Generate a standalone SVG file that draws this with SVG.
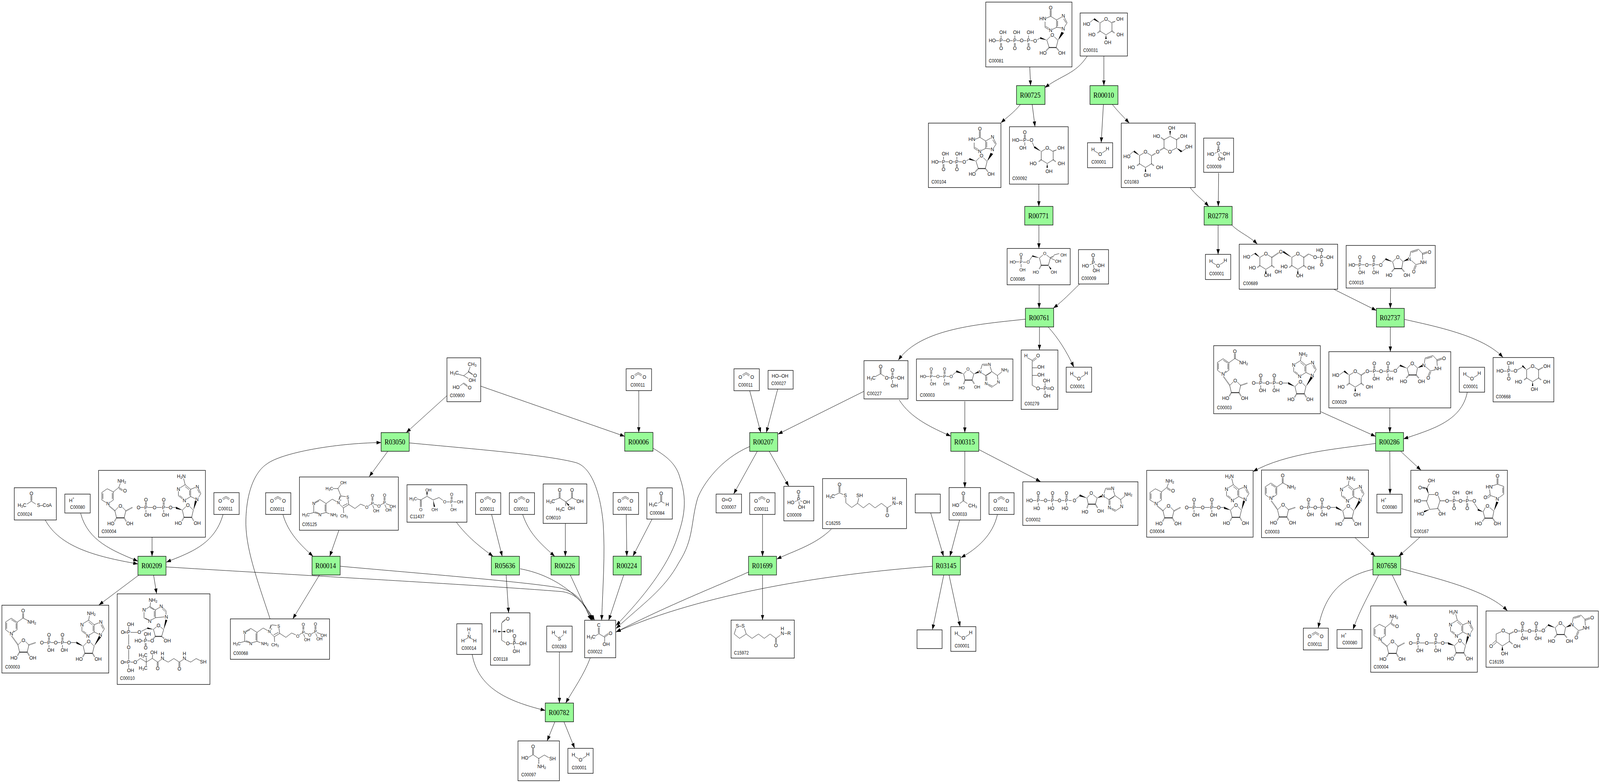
<svg xmlns="http://www.w3.org/2000/svg" xmlns:xlink="http://www.w3.org/1999/xlink" width="4552" height="2005" viewBox="0 0 4552 2005" preserveAspectRatio="none" style="width:100vw;height:100vh;display:block">
<style>
svg{font-size:13.3px}
text{font-family:"Liberation Sans",Arial,sans-serif;fill:#111}
.a{text-anchor:middle;dominant-baseline:central}
.l{font-size:12px;dominant-baseline:central}
.t{font-family:"Liberation Serif","Times New Roman",serif;font-size:18.5px;fill:#000;text-anchor:middle;dominant-baseline:central}
.s{font-size:.72em}
.sm{font-size:11.5px}
.md{font-size:12.3px}
.n{fill:#fff;stroke:#000;stroke-width:1.33}
.r{fill:#98fb98;stroke:#000;stroke-width:1.33}
.b{fill:none;stroke:#111;stroke-width:1}
.k{fill:none;stroke:#111;stroke-width:2}
.h{fill:none;stroke:#111;stroke-width:3;stroke-dasharray:1 1.4}
.f{fill:#000}
.e{fill:none;stroke:#000;stroke-width:1;marker-end:url(#a)}
</style>
<defs>
<marker id="a" markerUnits="userSpaceOnUse" markerWidth="14" markerHeight="10" refX="13.3" refY="4.7" orient="auto"><path d="M0,0L13.3,4.7L0,9.4z"/></marker>
<g id="pud"><path class="b" d="M-1.4,-14V-6M1.4,-14V-6M0,6V13"/><text class="a" y="-19.5">O</text><text class="a">P</text><text class="a" x="5" y="19">OH</text></g>
<g id="puh"><path class="b" d="M-1.4,-14V-6M1.4,-14V-6M0,6V13"/><text class="a" y="-19.5">O</text><text class="a">P</text><text class="a" x="-4.5" y="19.5">HO</text></g>
<g id="pdu"><path class="b" d="M-1.4,14V6M1.4,14V6M0,-6V-13"/><text class="a" y="19.7">O</text><text class="a">P</text><text class="a" x="5" y="-21">OH</text></g>
<g id="h2o"><path class="b" d="M20,21L30.7,27M41.7,26L52.7,19.7"/><text class="a" x="15.7" y="17">H</text><text class="a" x="36" y="29.3">O</text><text class="a" x="56.7" y="15.7">H</text></g>
<g id="co2"><path class="b" d="M24,15.5L34.5,9.5L45,15.5M26,18.5L34.5,13L43.5,18.5"/><text class="a" x="18" y="21.3">O</text><text class="a" x="52" y="21.3">O</text></g>
<g id="hp"><text class="a" x="19.6" y="16">H<tspan class="s" dy="-5">+</tspan></text></g>
<g id="pi"><path class="b" d="M40.7,20V28M43.3,20V28M37,36.7L31.7,39M46.7,36.7L52.3,39M42.7,39L44.3,48"/><text class="a" x="41.7" y="14.7">O</text><text class="a" x="42" y="33.3">P</text><text class="a" x="20" y="41.7">HO</text><text class="a" x="64.3" y="40.7">OH</text><text class="a" x="50.3" y="53.3">OH</text></g>
<g id="pr"><path class="b" d="M5,3L17,9.6V30.6L0,40.2L-17,30.6V9.6L-5,3"/><path class="h" d="M-17,30.6L-25,36M17,30.6L25,36"/><path class="f" d="M0,40.2L-2,51H2z"/><text class="a">O</text></g>
<g id="py"><use xlink:href="#pr"/><text class="a" x="-40" y="40.2">HO</text><text class="a" x="40" y="40.2">OH</text><text class="a" x="5" y="60">OH</text></g>
<g id="rb"><path class="b" d="M-5.5,3L-15.6,12.3L-10.8,30.6M10.8,30.6L15.6,12.3L5.5,3"/><path class="k" d="M-10.8,30.6H10.8"/><path class="h" d="M-10.8,30.6L-17,40M10.8,30.6L17,40"/><text class="a">O</text><text class="a" x="-27" y="45.5">HO</text><text class="a" x="26.8" y="45.5">OH</text></g>
<g id="ad"><path class="b" d="M246.9,38.3L233,46M227.7,55V66.6L239.5,75M231,66L240,72M249.5,76L262.5,68.5V50.1L246.9,38.3M259.5,66V52.5M258,51L247,43M262.5,50.1L276,45M285,48.5L291.5,60.8L285.5,70M282,50L287.5,60M275,74L262.5,68.5"/><text class="a" x="227.7" y="49.8">N</text><text class="a" x="244.6" y="78.8">N</text><text class="a" x="281.3" y="43.6">N</text><text class="a" x="280.4" y="76.2">N</text></g>
<g id="ino"><path class="b" d="M145.5,88L135.3,97.3L142,116.3M162,116.3L167,98L156.5,88.5M108,96.5L116,92M145,19.5V36M147.8,19.5V36M146.3,36.3L163,45.7V64.7L151,70M166,48V62M130.3,50V64.7L141,70.5M132,62L141,67M133,41.5L146.3,36.3M163,45.7L177,38.5M186,40.5L193,53L186,63M183,43L190,53M177,66L163,64.7"/><path class="k" d="M142,116.3H162"/><path class="f" d="M135.3,97.3L117,89.5L116,94zM167,98L177,76L184,79z"/><path class="h" d="M142,116.3L133,125M162,116.3L170,125"/><text class="a" x="146.3" y="14.7">O</text><text class="a" x="123.7" y="42">HN</text><text class="a" x="146" y="72">N</text><text class="a" x="182.3" y="35.3">N</text><text class="a" x="182" y="68">N</text><text class="a" x="151" y="84">O</text><text class="a" x="102" y="99">O</text><text class="a" x="124.7" y="130.7">HO</text><text class="a" x="178" y="130.7">OH</text></g>
<g id="urid"><path class="b" d="M102,45L112,35M142,33L132.3,42L137.4,59.3M158,59.3L161.6,41.3L152,33M181,29L183.7,15.7L205.7,9.6L216.8,20.3L231,16M186,18L204,13M217.8,23L232,18.5M216.8,20.3L218,36M212,46L198.4,49L185,38M197,50L192,61M200,51L195,62"/><path class="k" d="M137.4,59.3H158"/><path class="f" d="M132.3,42L112.4,32.5L111.5,37zM161.6,41.3L175,33L176,38z"/><path class="h" d="M137.4,59.3L129,68M158,59.3L166,68"/><text class="a" x="98.5" y="49.4">O</text><text class="a" x="147" y="29.9">O</text><text class="a" x="180" y="34.8">N</text><text class="a" x="237.3" y="16.5">O</text><text class="a" x="220" y="42.5">NH</text><text class="a" x="192.5" y="67">O</text><text class="a" x="122" y="76.2">HO</text><text class="a" x="172.7" y="76.2">OH</text></g>
<g id="adn"><path class="b" d="M103,41L114,32M142,30.5L134.3,38.3L138.3,54M158.3,54L163.3,38.3L152,30M183,26L187.7,13.3H203M190,16.5H203M209.5,19L214.3,32.3L196.7,42.3L186,36M212,34.5L198.5,42.5M197,42.3V56M200,44V56M203,64L217.7,70L229,63M204,67L216,73M232,53L230.3,42.3L214.3,32.3M230.3,42.3L243,33"/><path class="k" d="M138.3,54H158.3"/><path class="f" d="M134.3,38.3L114,29L113,34zM163.3,38.3L176,31L177,35.5z"/><path class="h" d="M138.3,54L134,65M158.3,54L165,64"/><text class="a" x="98.7" y="44.7">O</text><text class="a" x="146.7" y="25.7">O</text><text class="a" x="181" y="32.3">N</text><text class="a" x="207.7" y="13.3">N</text><text class="a" x="198.3" y="62.3">N</text><text class="a" x="233.3" y="59">N</text><text class="a" x="252" y="28">NH<tspan class="s" dy="3">2</tspan></text><text class="a" x="128.7" y="73.3">HO</text><text class="a" x="172.7" y="71.3">OH</text></g>
<g id="thi" class="sm"><path class="b" d="M58.2,24.5L75.8,34.7V57.7L62,61M54,61L40.7,57.7V38.5M45,31L58.2,24.5M73,37V55M44,33.5L56,28M44,56L54.5,59M40.7,57.7L28,61M75.8,57.7L86,61M75.8,34.7L93.3,23.5L106,30M112,26L117.9,15.3L132,17M138,23L140.4,37.2L124.9,45.9L115,37M123,41L137,34.5M112.5,24L115,15M124.9,45.9L126,59M140.4,37.2L157.9,47.4L174,36.2L186,41M196,41L204,36M206.3,19V28M209,19V28M211,36L221.5,39M230,39L238,34.5M240.7,18V27M243.5,18V27M208.5,39L212,48M243,37.5L247,46M246,35L258,39"/><text class="a" x="40.7" y="33.7">N</text><text class="a" x="58.2" y="62.8">N</text><text class="a" x="18.2" y="62.8">H<tspan class="s" dy="3">3</tspan><tspan dy="-3">C</tspan></text><text class="a" x="98.2" y="62.8">NH<tspan class="s" dy="3">2</tspan></text><text class="a" x="110.9" y="32.1">N</text><text class="a s" x="117" y="27">+</text><text class="a" x="137.5" y="17.9">S</text><text class="a" x="127" y="66.3">CH<tspan class="s" dy="3">3</tspan></text><text class="a" x="191.6" y="43.9">O</text><text class="a" x="207.7" y="33.7">P</text><text class="a" x="207.7" y="14.3">O</text><text class="a" x="226" y="40.8">O</text><text class="a" x="242.1" y="32.1">P</text><text class="a" x="242.1" y="12.8">O</text><text class="a" x="218.3" y="52.6">OH</text><text class="a" x="253.4" y="51">OH</text><text class="a" x="265.3" y="42.3">OH</text></g>
<g id="nad"><path class="b" d="M26.8,33.3L43.3,43.6V62.8L32,70M21,70L10.7,62.8V42.9L26.8,33.3M40.5,46V60.5M13.5,45V60.5M27,37L40,44.5M43.3,43.6L60.3,32.9L74,39.5M59,32.9V20M61.7,32.9V20M119,95.7H129M139,95.7H148M158,95.7H167M177,95.7H186M196,95.7H212M249,27L246.9,38.3"/><path class="h" d="M28,79L46,101.8M76.3,101.8L96.4,95.7"/><path class="f" d="M231.3,104.9L212,93L212,98.5zM262.5,104.9L276,79L282,82z"/><use xlink:href="#rb" x="61.2" y="89.6"/><use xlink:href="#rb" x="246.9" y="92.6"/><use xlink:href="#ad"/><use xlink:href="#pud" x="133.9" y="95.7"/><use xlink:href="#pud" x="172.3" y="95.7"/><text class="a" x="60.3" y="14.2">O</text><text class="a" x="85.3" y="43.6">NH<tspan class="s" dy="3">2</tspan></text><text class="a" x="26.8" y="72.7">N</text><text class="a s" x="33.5" y="67">+</text><text class="a" x="113.8" y="95.7">O</text><text class="a" x="153.1" y="95.7">O</text><text class="a" x="191" y="95.7">O</text><text class="a" x="254.5" y="21.4">NH<tspan class="s" dy="3">2</tspan></text></g>
<g id="nadh"><path class="b" d="M24.6,47L42,55.1V75.8L32,82.5M21.5,82.5L9.4,75.8V56.6L24.6,47M39,58V73M12.4,59V73M42,55.1L57.6,43.6L69,50M57.6,46.5L68,52.5M57.6,43.6L62,33M119,94.9H129.5M140,94.9H154M165,94.9H180M190.5,94.9H199.5M210,94.9H220M242,21L246.4,36.7"/><path class="h" d="M30,91L46.9,103.7M78,103.7L96,95"/><path class="f" d="M238.8,101.8L220,93L220,98.5zM270,101.8L274,78L280,79z"/><use xlink:href="#rb" x="62" y="91"/><use xlink:href="#rb" x="254" y="89.6"/><use xlink:href="#ad" transform="translate(-.5,-1.6)"/><use xlink:href="#pud" x="134.8" y="94.9"/><use xlink:href="#pud" x="185.3" y="94.9"/><text class="a" x="66" y="27.2">NH<tspan class="s" dy="3">2</tspan></text><text class="a" x="75" y="52.8">O</text><text class="a" x="26.8" y="85.3">N</text><text class="a" x="113.8" y="94.9">O</text><text class="a" x="159.4" y="94.9">O</text><text class="a" x="204.9" y="94.9">O</text><text class="a" x="235.3" y="15.7">H<tspan class="s" dy="3">2</tspan><tspan dy="-3">N</tspan></text></g>
</defs>

<g id="nodes">
<g id="C00081" transform="translate(2804.5,5.4)"><rect class="n" width="245.2" height="166"/><path class="b" d="M28,98.7H38M49,98.7H58M68.5,98.7H77M88,98.7H97M107.5,98.7H116M127,98.7H135"/><use xlink:href="#ino" x="38.4"/><use xlink:href="#pdu" x="43.6" y="98.7"/><use xlink:href="#pdu" x="82.7" y="98.7"/><use xlink:href="#pdu" x="121.7" y="98.7"/><text class="a" x="18.4" y="98.7">HO</text><text class="a" x="63.1" y="98.7">O</text><text class="a" x="102.2" y="98.7">O</text><text class="l" x="8.6" y="150.8">C00081</text></g>
<g id="C00031" transform="translate(3073,33.3)"><rect class="n" width="134.5" height="110.2"/><use xlink:href="#py" x="73.5" y="15.7"/><path class="f" d="M56.5,25.3L38,17L41,13.5z"/><path class="b" d="M39.6,15.3L28,24M90.7,25.3l2,-3l1.5,2l2,-3l1.5,2l2,-3"/><text class="a" x="18.4" y="28.3">HO</text><text class="a" x="113" y="15.7">OH</text><text class="l" x="8.6" y="96">C00031</text></g>
<g id="R00725"><rect class="r" x="2892" y="219.3" width="81" height="48.2"/><text class="t" x="2931" y="243.4">R00725</text></g>
<g id="R00010"><rect class="r" x="3101" y="219.3" width="79.6" height="48.2"/><text class="t" x="3140" y="243.4">R00010</text></g>
<g id="C00104" transform="translate(2641.3,315.3)"><rect class="n" width="206.4" height="165"/><path class="b" d="M28,99H38M48,99H58M69,99H76M86,99H96"/><use xlink:href="#ino"/><use xlink:href="#pdu" x="43" y="99"/><use xlink:href="#pdu" x="81" y="99"/><text class="a" x="18.7" y="99">HO</text><text class="a" x="63.7" y="99">O</text><text class="l" x="8.7" y="151">C00104</text></g>
<g id="C00092" transform="translate(2872,324.5)"><rect class="n" width="167" height="147"/><use xlink:href="#py" x="107.3" y="54"/><path class="f" d="M90.3,63.6L69.5,54L72,50z"/><path class="b" d="M70.6,52.4L65,40M57,34.8H49M42.2,20V29M45,20V29M43.6,40V48M28,34.8H38M124.3,63.6l2,-3l1.5,2l2,-3l1.5,2l2,-3"/><text class="a" x="62.6" y="34.8">O</text><text class="a" x="43.6" y="34.8">P</text><text class="a" x="17.8" y="34.8">HO</text><text class="a" x="37.9" y="54.3">OH</text><text class="a" x="43.6" y="14.5">O</text><text class="a" x="146.4" y="54">OH</text><text class="l" x="8" y="132.4">C00092</text></g>
<g id="C00001_1" transform="translate(3094,365.5)"><rect class="n" width="71.6" height="64"/><use xlink:href="#h2o"/><text class="l" x="11" y="49.7">C00001</text></g>
<g id="C01083" transform="translate(3190,315.3)"><rect class="n" width="210.4" height="165"/><path class="b" d="M133,70L121.7,63.6V42.5L139,33.7L157.4,42.5V63.6L143.5,70M171.6,73.1L184,65M35,72L24,81"/><path class="f" d="M139,33.7L137,20H141zM157.4,63.6L170,75L173,71zM52.2,82.7L35,74L37,70z"/><path class="h" d="M121.7,42.5L113,37M157.4,42.5L166,37M121.7,63.6L109,70M87.8,82.7L98,77"/><use xlink:href="#py" x="68.9" y="73.5"/><text class="a" x="143.3" y="13">OH</text><text class="a" x="100.5" y="33.7">HO</text><text class="a" x="177.4" y="33.7">OH</text><text class="a" x="192.3" y="60.5">OH</text><text class="a" x="138.3" y="73.5">O</text><text class="a" x="103.6" y="73.5">O</text><text class="a" x="16" y="85.7">HO</text><text class="l" x="8" y="150.8">C01083</text></g>
<g id="C00009_1" transform="translate(3424.5,353.6)"><rect class="n" width="85" height="87.7"/><use xlink:href="#pi"/><text class="l" x="8.3" y="73.3">C00009</text></g>
<g id="R00771"><rect class="r" x="2915.3" y="528.5" width="80.4" height="47.8"/><text class="t" x="2954.5" y="552.4">R00771</text></g>
<g id="R02778"><rect class="r" x="3425.7" y="528.5" width="79.8" height="47.8"/><text class="t" x="3465" y="552.4">R02778</text></g>
<g id="C00085" class="sm" transform="translate(2865.3,636.3)"><rect class="n" width="179.4" height="93"/><path class="b" d="M38.4,20V29M41,20V29M39.7,40V48M24,34.3H34M45,35H54M63,31L72,19M102,16.5L92,24.3L97,43M117.3,43L123,24.3L112,16.5M123,24.3L136,30M123,24.3l2,-3l1.5,2l2,-3l1.5,2l2,-3l2,-3L148,13"/><path class="k" d="M97,43H117.3"/><path class="f" d="M92,24.3L72,17.5L71.5,21zM117.3,43L123,54L126,52z"/><path class="h" d="M97,43L91,53"/><text class="a" x="39.7" y="15.3">O</text><text class="a" x="39.7" y="34.7">P</text><text class="a" x="16" y="34.3">HO</text><text class="a" x="59.7" y="35">O</text><text class="a" x="43.7" y="54.3">OH</text><text class="a" x="107" y="13">O</text><text class="a" x="160.3" y="16">OH</text><text class="a" x="145.3" y="32.3">OH</text><text class="a" x="81.7" y="60.3">HO</text><text class="a" x="132.7" y="60.3">OH</text><text class="l" x="8.7" y="78.3">C00085</text></g>
<g id="C00009_2" transform="translate(3068.3,639.3)"><rect class="n" width="85.4" height="88"/><use xlink:href="#pi"/><text class="l" x="8.3" y="73.3">C00009</text></g>
<g id="C00001_2" transform="translate(3429.4,651.4)"><rect class="n" width="72" height="64.3"/><use xlink:href="#h2o"/><text class="l" x="11" y="49.7">C00001</text></g>
<g id="C00689" transform="translate(3525.6,625.4)"><rect class="n" width="280" height="115.2"/><use xlink:href="#pr" x="75.7" y="24.1"/><use xlink:href="#pr" x="166.7" y="24.1"/><path class="f" d="M58.7,33.7L43.5,25L46,21.5zM149.7,33.7L124,21L126,17z"/><path class="h" d="M92.7,33.7L112,22M183.7,33.7L197.6,24.9"/><path class="b" d="M44.8,23.3L33,30M197.6,24.9L211,31M221,33.7H229M234,19.5V28M233,39V47M235.8,39V47M240,33.7H248"/><text class="a" x="21.3" y="32.9">HO</text><text class="a" x="37.5" y="60.8">HO</text><text class="a" x="110.9" y="70">OH</text><text class="a" x="80.8" y="79.6">OH</text><text class="a" x="127.8" y="57.8">HO</text><text class="a" x="204.1" y="60">OH</text><text class="a" x="172" y="80.8">OH</text><text class="a" x="118.3" y="19.1">O</text><text class="a" x="216" y="33.7">O</text><text class="a" x="234.4" y="33.7">P</text><text class="a" x="229" y="14.9">HO</text><text class="a" x="234.4" y="52.4">O</text><text class="a" x="257.9" y="33.7">OH</text><text class="l" x="11" y="100.6">C00689</text></g>
<g id="C00015" class="md" transform="translate(3829.8,628.5)"><rect class="n" width="253.5" height="109"/><path class="b" d="M25,49.4H34M44,49.4H53M64,49.4H73M84,49.4H93"/><use xlink:href="#urid"/><use xlink:href="#pud" x="38.9" y="49.4"/><use xlink:href="#pud" x="78.6" y="49.4"/><text class="a" x="16.2" y="49.4">HO</text><text class="a" x="58.8" y="49.4">O</text><text class="l" x="8" y="94.9">C00015</text></g>
<g id="R00761"><rect class="r" x="2917.3" y="789.3" width="80.4" height="48"/><text class="t" x="2956.5" y="813.3">R00761</text></g>
<g id="R02737"><rect class="r" x="3915.8" y="789.6" width="79.4" height="47.8"/><text class="t" x="3954.5" y="813.5">R02737</text></g>
<g id="C00227" transform="translate(2458,923.5)"><rect class="n" width="125.2" height="98"/><path class="b" d="M46,20V33.5M48.7,20V33.5M47.3,33.7L32,41M47.3,33.7L59,40.5M70,43.9H76M79.8,30V38M82.6,30V38M87,43.9H94M81.2,49.5V58"/><text class="a" x="47.3" y="14.8">O</text><text class="a" x="20.7" y="43.9">H<tspan class="s" dy="3">3</tspan><tspan dy="-3">C</tspan></text><text class="a" x="64.7" y="43.9">O</text><text class="a" x="81.2" y="43.9">P</text><text class="a" x="81.2" y="24">O</text><text class="a" x="104.5" y="43.9">OH</text><text class="a" x="86.2" y="64.3">OH</text><text class="l" x="8.3" y="84.7">C00227</text></g>
<g id="C00003_3" class="sm" transform="translate(2607.3,919.3)"><rect class="n" width="274.4" height="106.4"/><path class="b" d="M27,44.7H37M47,44.7H56M66,44.7H75M85,44.7H94"/><use xlink:href="#adn"/><use xlink:href="#pud" x="42" y="44.7"/><use xlink:href="#pud" x="80" y="44.7"/><text class="a" x="18.7" y="44.7">HO</text><text class="a" x="61" y="44.7">O</text><text class="l" x="10" y="92.3">C00003</text></g>
<g id="C00279" transform="translate(2905.3,896.3)"><rect class="n" width="104.4" height="152"/><path class="b" d="M18,20L31.3,26.3L42,19M33,29L44,21.5M31.3,26.3V90.3L43,96M31.3,45.5H46M31.3,65H46M53,98.7H63M73,97H83M73,100.4H83M68,84.5V93M68,104V112"/><text class="a" x="13.3" y="14.7">H</text><text class="a" x="48" y="14.7">O</text><text class="a" x="56" y="43.7">OH</text><text class="a" x="56" y="63.7">OH</text><text class="a" x="48" y="98.7">O</text><text class="a" x="68" y="98.7">P</text><text class="a" x="88" y="98.7">O</text><text class="a" x="72" y="78.7">OH</text><text class="a" x="73" y="117.7">OH</text><text class="l" x="9.3" y="137.7">C00279</text></g>
<g id="C00001_3" transform="translate(3033.3,940.3)"><rect class="n" width="72.4" height="64"/><use xlink:href="#h2o"/><text class="l" x="11" y="49.7">C00001</text></g>
<g id="C00003_1" transform="translate(3452.9,885.2)"><rect class="n" width="303.5" height="174.2"/><use xlink:href="#nad"/><text class="l" x="9.4" y="158.4">C00003</text></g>
<g id="C00029" transform="translate(3780.6,900.5)"><rect class="n" width="346.8" height="144"/><use xlink:href="#py" x="75" y="50.5"/><use xlink:href="#urid" transform="translate(90.4,.4)"/><path class="f" d="M58,60L42.5,52L45,48z"/><path class="b" d="M44,50L31,59M115,50.1H124M134.5,50.1H143M154,50.1H163M173.5,50.1H183"/><path class="h" d="M92,60L104,53"/><use xlink:href="#pud" x="129.3" y="50.1"/><use xlink:href="#pud" x="168.3" y="50.1"/><text class="a" x="19.8" y="60.5">HO</text><text class="a" x="109.5" y="50.1">O</text><text class="a" x="148.4" y="50.1">O</text><text class="l" x="8.8" y="129.7">C00029</text></g>
<g id="C00001_4" transform="translate(4151.7,940.4)"><rect class="n" width="72" height="63.9"/><use xlink:href="#h2o"/><text class="l" x="11" y="49.7">C00001</text></g>
<g id="C00668" transform="translate(4247.9,915.5)"><rect class="n" width="172.7" height="113.6"/><use xlink:href="#py" x="112.4" y="21.8"/><path class="f" d="M95.4,31.4L82,23L84.5,19.5z"/><path class="b" d="M83,24.9L68,32M29,34.8H39M50,34.8H58M44.6,20.5V29M43.2,40V48M46,40V48"/><path class="h" d="M129.4,31.4L142,25"/><text class="a" x="63.7" y="34.8">O</text><text class="a" x="44.6" y="34.8">P</text><text class="a" x="19.6" y="34.8">HO</text><text class="a" x="49" y="14.5">OH</text><text class="a" x="44.6" y="54">O</text><text class="a" x="152.8" y="21.8">OH</text><text class="l" x="8" y="100.6">C00668</text></g>
<g id="C00900" transform="translate(1271.6,916.3)"><rect class="n" width="96" height="112.3"/><path class="b" d="M47.7,45.9L61,36.2L66,23M61,36.2L74,44M60,33.8L73,41.8M32,42L47.7,45.9L61,53M37,72L48,64.3L58,71M47,66.5L59,74"/><text class="a" x="71.6" y="16.8">CH<tspan class="s" dy="3">3</tspan></text><text class="a" x="21" y="38.8">H<tspan class="s" dy="3">3</tspan><tspan dy="-3">C</tspan></text><text class="a" x="80" y="45.9">O</text><text class="a" x="71.6" y="57.7">OH</text><text class="a" x="26" y="75.5">HO</text><text class="a" x="64.6" y="76.5">O</text><text class="l" x="8.4" y="96.9">C00900</text></g>
<g id="C00011_1" transform="translate(1781.3,944.3)"><rect class="n" width="72.4" height="56"/><use xlink:href="#co2"/><text class="l" x="12.3" y="41.7">C00011</text></g>
<g id="C00011_2" transform="translate(2088.1,944.4)"><rect class="n" width="72.2" height="56.1"/><use xlink:href="#co2"/><text class="l" x="12.3" y="41.7">C00011</text></g>
<g id="C00027" transform="translate(2185.2,948.5)"><rect class="n" width="71.3" height="47.9"/><text class="a" x="34" y="14.3">HO–OH</text><text class="l" x="9" y="33.7">C00027</text></g>
<g id="R03050"><rect class="r" x="1084.2" y="1107.7" width="80" height="47.9"/><text class="t" x="1123.5" y="1131.6">R03050</text></g>
<g id="R00006"><rect class="r" x="1777.3" y="1107.3" width="80.4" height="48"/><text class="t" x="1816.5" y="1131.3">R00006</text></g>
<g id="R00207"><rect class="r" x="2132.9" y="1107.7" width="79.6" height="47.9"/><text class="t" x="2171.5" y="1131.6">R00207</text></g>
<g id="R00315"><rect class="r" x="2705" y="1107.7" width="79.7" height="47.9"/><text class="t" x="2744" y="1131.6">R00315</text></g>
<g id="R00286"><rect class="r" x="3913.6" y="1107.6" width="79.4" height="47.6"/><text class="t" x="3952.5" y="1131.4">R00286</text></g>
<g id="C00024" transform="translate(40.6,1248.9)"><rect class="n" width="119.7" height="82.6"/><path class="b" d="M47.3,20V33.5M50,20V33.5M48.7,34.4L36,42M48.7,34.4L61,42"/><text class="a" x="48.7" y="15.3">O</text><text class="a" x="21.9" y="45.2">H<tspan class="s" dy="3">3</tspan><tspan dy="-3">C</tspan></text><text class="a" x="85.7" y="45.2">S–CoA</text><text class="l" x="8.9" y="68.1">C00024</text></g>
<g id="C00080_1" transform="translate(184.4,1265.3)"><rect class="n" width="72.3" height="48.3"/><use xlink:href="#hp"/><text class="l" x="15.2" y="33.7">C00080</text></g>
<g id="C00004_1" transform="translate(280.4,1204.5)"><rect class="n" width="304" height="171.1"/><use xlink:href="#nadh"/><text class="l" x="8.5" y="156.5">C00004</text></g>
<g id="C00011_3" transform="translate(608.5,1261.5)"><rect class="n" width="71.9" height="55.9"/><use xlink:href="#co2"/><text class="l" x="12.3" y="41.7">C00011</text></g>
<g id="C00011_4" transform="translate(755.8,1261.7)"><rect class="n" width="71.6" height="55.6"/><use xlink:href="#co2"/><text class="l" x="12.3" y="41.7">C00011</text></g>
<g id="C05125" transform="translate(851.9,1221.4)"><rect class="n" width="281.4" height="136.3"/><use xlink:href="#thi" y="33.3"/><g class="sm"><path class="b" d="M117.9,48.5L109.5,29.6L95,29.6M109.5,29.6L118,19"/><text class="a" x="124.9" y="14.3">OH</text><text class="a" x="84.9" y="29.6">H<tspan class="s" dy="3">3</tspan><tspan dy="-3">C</tspan></text></g><text class="l" x="7.7" y="121.4">C05125</text></g>
<g id="C11437" transform="translate(1157.9,1241.3)"><rect class="n" width="170.5" height="95.9"/><path class="b" d="M28,36L39.3,38.8L57,29.6L74.4,38.8L91.2,32.7L102,40M38,39V57M40.7,39V57"/><path class="f" d="M57,29.6L55,19H59zM74.4,38.8L76,56.5H80z"/><path class="b" d="M113,43.9H122M125.6,30V38M128.4,30V38M132,43.9H141M127.5,49.5V57"/><g class="sm"><text class="a" x="61" y="13.3">OH</text><text class="a" x="17.5" y="35.2">H<tspan class="s" dy="3">3</tspan><tspan dy="-3">C</tspan></text><text class="a" x="39.3" y="63.3">O</text><text class="a" x="78.6" y="63.3">OH</text><text class="a" x="107.4" y="43.9">O</text><text class="a" x="127" y="43.9">P</text><text class="a" x="127" y="24">O</text><text class="a" x="150.9" y="43.9">OH</text><text class="a" x="132" y="63.3">OH</text></g><text class="l" x="8.4" y="81.6">C11437</text></g>
<g id="C00011_5" transform="translate(1353,1261.7)"><rect class="n" width="71.6" height="55.6"/><use xlink:href="#co2"/><text class="l" x="12.3" y="41.7">C00011</text></g>
<g id="C00011_6" transform="translate(1449.1,1261.7)"><rect class="n" width="71.6" height="55.6"/><use xlink:href="#co2"/><text class="l" x="12.3" y="41.7">C00011</text></g>
<g id="C06010" transform="translate(1545.3,1239.3)"><rect class="n" width="124.2" height="101"/><path class="b" d="M45.6,20.5V35.5M48.4,20.5V35.5M31,41L47,35.7L64.6,45.9L82,35.7L96,41M80.6,20.5V35.5M83.4,20.5V35.5"/><path class="h" d="M64.6,45.9L64,56"/><path class="f" d="M64.6,45.9L71,56L75,54z"/><text class="a" x="47" y="15.3">O</text><text class="a" x="82" y="15.3">O</text><text class="a" x="21" y="44.9">H<tspan class="s" dy="3">3</tspan><tspan dy="-3">C</tspan></text><text class="a" x="105" y="44.9">OH</text><text class="a" x="49" y="64.8">H<tspan class="s" dy="3">3</tspan><tspan dy="-3">C</tspan></text><text class="a" x="80" y="62.2">OH</text><text class="l" x="7.7" y="86.7">C06010</text></g>
<g id="C00011_10" transform="translate(1744.3,1261.3)"><rect class="n" width="72.4" height="56"/><use xlink:href="#co2"/><text class="l" x="12.3" y="41.7">C00011</text></g>
<g id="C00084" transform="translate(1840.3,1249.3)"><rect class="n" width="72.4" height="80"/><path class="b" d="M39.5,19.5V34.5M42.3,19.5V34.5M32,39.5L40.7,34.7L50.5,39.5"/><text class="a" x="40.7" y="14.3">O</text><text class="a" x="18" y="43">H<tspan class="s" dy="3">3</tspan><tspan dy="-3">C</tspan></text><text class="a" x="58" y="42.7">H</text><text class="l" x="8.3" y="64.7">C00084</text></g>
<g id="C00007" transform="translate(2037.3,1265.3)"><rect class="n" width="72.4" height="48"/><text class="a" x="30.3" y="14.7">O=O</text><text class="l" x="15.3" y="33.7">C00007</text></g>
<g id="C00011_7" transform="translate(2132.9,1261.7)"><rect class="n" width="72.1" height="55.6"/><use xlink:href="#co2"/><text class="l" x="12.3" y="41.7">C00011</text></g>
<g id="C00009_3" transform="translate(2230,1245.4)"><rect class="n" width="85.3" height="88.3"/><use xlink:href="#pi"/><text class="l" x="8.3" y="73.3">C00009</text></g>
<g id="C16255" transform="translate(2340.2,1225.5)"><rect class="n" width="238.8" height="128.1"/><path class="b" d="M46.8,20V35.5M49.5,20V35.5M48.1,36.7L33,43M48.1,36.7L59,41M66,49L66.3,62.2L82.9,74L99.5,63.3L116,75L132.7,63.3L149.3,75L167.5,63.3L184,75L196,68M99.5,63.3L103,50M182.6,75V87M185.4,75V87M203.2,57V59M209,63.3H216"/><text class="a" x="48.1" y="14.8">O</text><text class="a" x="22.4" y="45.4">H<tspan class="s" dy="3">3</tspan><tspan dy="-3">C</tspan></text><text class="a" x="64.7" y="43.4">S</text><text class="a" x="105.3" y="43.4">SH</text><text class="a" x="184" y="93.9">O</text><text class="a" x="203.2" y="63.3">N</text><text class="a" x="203.2" y="51">H</text><text class="a" x="222.2" y="63.3">R</text><text class="l" x="9" y="113.8">C16255</text></g>
<g id="blank_1" transform="translate(2603.9,1265.3)"><rect class="n" width="71.3" height="48"/></g>
<g id="C00033" transform="translate(2700.1,1248.5)"><rect class="n" width="89.5" height="83.1"/><path class="b" d="M39.3,20.5V34M42,20.5V34M40.6,34L30,41M40.6,34L52,41"/><text class="a" x="40.6" y="15.8">O</text><text class="a" x="19" y="45.4">HO</text><text class="a" x="67" y="46">CH<tspan class="s" dy="3">3</tspan></text><text class="l" x="9" y="68.4">C00033</text></g>
<g id="C00011_8" transform="translate(2813.7,1261.7)"><rect class="n" width="71.3" height="55.6"/><use xlink:href="#co2"/><text class="l" x="12.3" y="41.7">C00011</text></g>
<g id="C00002" class="md" transform="translate(2909.9,1233.7)"><rect class="n" width="327.5" height="111.7"/><path class="b" d="M28,48H38.5M49.5,48H59.5M70,48H79M90,48H99.5M110,48H119M130,48H139"/><use xlink:href="#adn" transform="translate(48.1,3.3)"/><use xlink:href="#puh" x="44" y="48"/><use xlink:href="#puh" x="84.6" y="48"/><use xlink:href="#puh" x="124.4" y="48"/><text class="a" x="19" y="48">HO</text><text class="a" x="64.7" y="48">O</text><text class="a" x="104.5" y="48">O</text><text class="l" x="8.3" y="97.4">C00002</text></g>
<g id="C00004_2" transform="translate(3262.3,1204.5)"><rect class="n" width="302.8" height="171"/><use xlink:href="#nadh"/><text class="l" x="8.5" y="156.5">C00004</text></g>
<g id="C00003_2" transform="translate(3589,1203.6)"><rect class="n" width="304.3" height="173"/><use xlink:href="#nad"/><text class="l" x="9.4" y="158.4">C00003</text></g>
<g id="C00080_2" transform="translate(3917.2,1265.6)"><rect class="n" width="71.8" height="47.8"/><use xlink:href="#hp"/><text class="l" x="15.2" y="33.7">C00080</text></g>
<g id="C00167" transform="translate(4013.8,1204.3)"><rect class="n" width="274.7" height="171.1"/><path class="b" d="M68,62L51,62L45,80L54,100L76,98L83,78L78,65M44.7,46L33,44M42,44.5L32,43M42,47.5L32,46M45,46L53,34M108,78.1H118M128,78.1H136M146.5,78.1H155.5M165.5,78.1H175M180.5,84L192,100M212,95L205.9,106.4L210.7,122.5M232.4,122.5L236.3,104.5L224,95M241,69L226,64.3L224,49M225,62L217,67.5M227,65.5L218,71.5M231,40L246.7,35.6L264.3,41.3V61.2L251,70M245.3,20V35M248,20V35M261.5,44V58"/><path class="k" d="M210.7,122.5H232.4"/><path class="f" d="M51,62L43,47L47,45zM54,100L37,104L38,108zM205.9,106.4L191,98.5L190,103zM236.3,104.5L243,80L249,82z"/><path class="h" d="M45,78L30,78M76,97L83,105M83,78L98,78M210.7,122.5L203,131M232.4,122.5L239,131"/><use xlink:href="#pdu" x="123" y="78.1"/><use xlink:href="#pdu" x="160.5" y="78.1"/><text class="a" x="58.3" y="26.8">OH</text><text class="a" x="26.3" y="44.4">O</text><text class="a" x="73.5" y="60.5">O</text><text class="a" x="19.2" y="78.1">HO</text><text class="a" x="28" y="111.7">HO</text><text class="a" x="88.6" y="111.7">OH</text><text class="a" x="103" y="78.1">O</text><text class="a" x="141.3" y="78.1">O</text><text class="a" x="180.4" y="78.1">O</text><text class="a" x="218" y="91.1">O</text><text class="a" x="192.4" y="137">HO</text><text class="a" x="246" y="137">OH</text><text class="a" x="246" y="73">N</text><text class="a" x="212.3" y="70">O</text><text class="a" x="222.8" y="42.1">HN</text><text class="a" x="246.7" y="14.5">O</text><text class="l" x="8.8" y="156.9">C00167</text></g>
<g id="R00209"><rect class="r" x="392.4" y="1424.5" width="79.9" height="48.3"/><text class="t" x="431.5" y="1448.6">R00209</text></g>
<g id="R00014"><rect class="r" x="887.7" y="1424.5" width="80" height="47.9"/><text class="t" x="926.5" y="1448.4">R00014</text></g>
<g id="R05636"><rect class="r" x="1397.9" y="1424.5" width="80" height="47.9"/><text class="t" x="1436.5" y="1448.4">R05636</text></g>
<g id="R00226"><rect class="r" x="1567.7" y="1424.5" width="80" height="47.9"/><text class="t" x="1606.5" y="1448.4">R00226</text></g>
<g id="R00224"><rect class="r" x="1744.3" y="1424.3" width="80" height="48"/><text class="t" x="1783" y="1448.3">R00224</text></g>
<g id="R01699"><rect class="r" x="2129.6" y="1424.5" width="79.6" height="47.9"/><text class="t" x="2168.5" y="1448.4">R01699</text></g>
<g id="R03145"><rect class="r" x="2652.8" y="1424.5" width="79.6" height="47.9"/><text class="t" x="2691.5" y="1448.4">R03145</text></g>
<g id="R07658"><rect class="r" x="3906" y="1424.4" width="79" height="47.8"/><text class="t" x="3945" y="1448.3">R07658</text></g>
<g id="C00003_4" transform="translate(5.4,1549.7)"><rect class="n" width="304" height="173.7"/><use xlink:href="#nad"/><text class="l" x="9.4" y="158.4">C00003</text></g>
<g id="C00010" transform="translate(333.5,1520.6)"><rect class="n" width="263.8" height="232"/><path class="b" d="M95,22L93.3,32.5L81,39.5M76.3,47V62L88,67M79.5,62L88,66M97,67L108.5,61.2V41.3L93.3,32.5M105.5,59V44M105,41L93,35M108.5,41.3L120,35M129.5,35L138.8,43.2V53M128,38L136,45M134,59L108.5,61.2M112,84L103.1,91.1L108.5,109M126.3,109L132.1,91.8L122.5,84M86,88L69,96M57.5,98.7H38M19,97.3H27.5M19,100H27.5M32.7,84V93M32.7,104V131M32.7,143V169M19,173.5H27.5M19,176.3H27.5M32.7,180.5V190M38,174.9H46M56,172L66,165.3L82.6,174.9M82.6,174.9V163M82.6,174.9V185M82.6,174.9L99.6,165.3L115.2,174.9M99.6,165.3L101,156M113.8,174.9V186M116.6,174.9V186M115.2,174.9L124,169M133,169L145,174.9L161.2,165.7L176.8,174.9L186.5,169M175.4,175V187M178.2,175V187M195.5,169L209,174.9L224.6,165.7L236,171M94,120.6H86M75.5,120.6H69M80.8,115V109M79.4,126V133M82.2,126V133"/><path class="k" d="M108.5,109H126.3"/><path class="f" d="M132.1,91.8L137,66L142.5,67.5zM103.1,91.1L86,86L85.5,90z"/><path class="h" d="M108.5,109L102,116M126.3,109L134,115"/><text class="a" x="101.8" y="16.1">NH<tspan class="s" dy="3">2</tspan></text><text class="a" x="76.3" y="41.3">N</text><text class="a" x="92.4" y="69.7">N</text><text class="a" x="125" y="32.5">N</text><text class="a" x="139.7" y="59.7">N</text><text class="a" x="117.4" y="81.1">O</text><text class="a" x="63" y="98.7">O</text><text class="a" x="32.7" y="98.7">P</text><text class="a" x="15.7" y="98.7">O</text><text class="a" x="38" y="78.5">OH</text><text class="a" x="32.7" y="137">O</text><text class="a" x="32.7" y="174.9">P</text><text class="a" x="14.7" y="174.9">O</text><text class="a" x="38" y="196.3">OH</text><text class="a" x="51.3" y="174.9">O</text><text class="a" x="73.7" y="156.9">H<tspan class="s" dy="3">3</tspan><tspan dy="-3">C</tspan></text><text class="a" x="73.7" y="190.6">H<tspan class="s" dy="3">3</tspan><tspan dy="-3">C</tspan></text><text class="a" x="104" y="150">OH</text><text class="a" x="115.2" y="191.3">O</text><text class="a" x="128.5" y="153">H</text><text class="a" x="128.5" y="165.7">N</text><text class="a" x="176.8" y="192.2">O</text><text class="a" x="191" y="153">H</text><text class="a" x="191" y="165.7">N</text><text class="a" x="244.7" y="174.5">SH</text><text class="a" x="99.6" y="120.6">O</text><text class="a" x="80.8" y="120.6">P</text><text class="a" x="59.4" y="120.6">HO</text><text class="a" x="85.7" y="103.3">OH</text><text class="a" x="80.8" y="138.5">O</text><text class="a" x="142.5" y="120.6">OH</text><text class="l" x="8" y="216.2">C00010</text></g>
<g id="C00068" transform="translate(655.4,1584.7)"><rect class="n" width="282.1" height="103.6"/><use xlink:href="#thi"/><text class="l" x="8.4" y="88.3">C00068</text></g>
<g id="C00014" transform="translate(1299.6,1597.3)"><rect class="n" width="71.8" height="78.4"/><path class="b" d="M34.6,20.5V27.5M30,36.5L22.5,41M39.5,36.5L46.5,41"/><text class="a" x="34.4" y="14.7">H</text><text class="a" x="34.8" y="33.7">N</text><text class="a" x="17.4" y="43.7">H</text><text class="a" x="51.3" y="43.7">H</text><text class="l" x="13.4" y="62.7">C00014</text></g>
<g id="C00118" transform="translate(1395.5,1569.3)"><rect class="n" width="112.1" height="134"/><path class="b" d="M31.7,26.3L43,18M32.5,24L44,15.5M31.7,26.3V70L43,76.5M53.5,78.7H63M72.5,78.7H82M66.5,64.5V73.5M69.3,64.5V73.5M68,84V92"/><path class="f" d="M31.7,48L22,46V50zM31.7,48L42,46V50z"/><text class="a" x="49" y="15.7">O</text><text class="a" x="12.5" y="46.7">H</text><text class="a" x="55.4" y="46.7">OH</text><text class="a" x="67.9" y="78.7">P</text><text class="a" x="67.9" y="59.7">O</text><text class="a" x="49" y="78.7">O</text><text class="a" x="92.4" y="78.7">OH</text><text class="a" x="73.2" y="98.3">OH</text><text class="l" x="8" y="118.3">C00118</text></g>
<g id="C00283" transform="translate(1555.4,1603.3)"><rect class="n" width="72.3" height="66"/><path class="b" d="M22.5,22L31.5,29M40.5,28L48,21.5"/><text class="a" x="18.8" y="16.7">H</text><text class="a" x="36.2" y="32.7">S</text><text class="a" x="51.3" y="15.7">H</text><text class="l" x="14.3" y="52.7">C00283</text></g>
<g id="C00022" transform="translate(1663.3,1588.3)"><rect class="n" width="88.4" height="96"/><path class="b" d="M39,18.5V33M41.7,18.5V34M40.3,34.3L29.3,41M40.3,34.3L57,43.3L68.3,35.7M55.5,41L67,33.5M57,43.3V56"/><text class="a" x="40.3" y="13">C</text><text class="a" x="18.3" y="43">H<tspan class="s" dy="3">3</tspan><tspan dy="-3">C</tspan></text><text class="a" x="73.7" y="33">O</text><text class="a" x="61.3" y="62">OH</text><text class="l" x="8.3" y="80.3">C00022</text></g>
<g id="C15972" transform="translate(2079.9,1587.8)"><rect class="n" width="179.9" height="97.4"/><path class="b" d="M14,21L9,35.7L24.1,46.9L43.1,35.7L38,21M43.1,35.7L59.7,46.9L78,35.7L94.5,46.9L111,35.7L127.7,46.9L140,39M126.3,47V59M129.1,47V59M152,34.2H160"/><text class="a" x="26" y="15.3">S–S</text><text class="a" x="127.7" y="64.8">O</text><text class="a" x="146" y="34.2">N</text><text class="a" x="146" y="22.4">H</text><text class="a" x="165" y="34.2">R</text><text class="l" x="8.3" y="84.2">C15972</text></g>
<g id="blank_2" transform="translate(2608.9,1612.8)"><rect class="n" width="71.3" height="47.9"/></g>
<g id="C00001_5" transform="translate(2705,1604.6)"><rect class="n" width="71.4" height="63.3"/><use xlink:href="#h2o"/><text class="l" x="11" y="49.7">C00001</text></g>
<g id="C00011_9" transform="translate(3708,1608.5)"><rect class="n" width="71" height="55.8"/><use xlink:href="#co2"/><text class="l" x="12.3" y="41.7">C00011</text></g>
<g id="C00080_3" transform="translate(3803.8,1612.3)"><rect class="n" width="71.1" height="47.8"/><use xlink:href="#hp"/><text class="l" x="15.2" y="33.7">C00080</text></g>
<g id="C00004_3" transform="translate(3899.6,1551.5)"><rect class="n" width="303.4" height="169.9"/><use xlink:href="#nadh"/><text class="l" x="8.5" y="156.5">C00004</text></g>
<g id="C16155" transform="translate(4227.8,1564.5)"><rect class="n" width="319.4" height="144"/><path class="b" d="M53.5,53.5L66.3,58.9V78L46.3,89.6L28.7,78V58.9L43.5,53M27.5,76L18,84M30,80L20,88M90,51.3H98.5M109,51.3H118.5M129,51.3H138M148.5,51.3H157.5"/><path class="h" d="M66.3,78L76,85M66.3,58.9L79,53"/><path class="f" d="M46.3,89.6L44,101H49z"/><use xlink:href="#urid" transform="translate(64.5,1)"/><use xlink:href="#pud" x="103.8" y="51.3"/><use xlink:href="#pud" x="143" y="51.3"/><text class="a" x="48.7" y="50.5">O</text><text class="a" x="14.4" y="90">O</text><text class="a" x="87.8" y="90">OH</text><text class="a" x="52.7" y="109">OH</text><text class="a" x="84.6" y="51.3">O</text><text class="a" x="123.8" y="51.3">O</text><text class="l" x="8.8" y="130">C16155</text></g>
<g id="R00782"><rect class="r" x="1551.3" y="1800.3" width="80.4" height="48"/><text class="t" x="1590.5" y="1824.3">R00782</text></g>
<g id="C00097" transform="translate(1473.7,1897.3)"><rect class="n" width="117.8" height="102"/><path class="b" d="M41.5,19.5V35M44.2,19.5V35M42.9,35.3L30,42M42.9,35.3L59,45L75,36L88,43"/><path class="h" d="M59,45V58"/><text class="a" x="42.9" y="14.7">O</text><text class="a" x="19.6" y="43.7">HO</text><text class="a" x="98" y="45.3">SH</text><text class="a" x="67.5" y="65.3">NH<tspan class="s" dy="3">2</tspan></text><text class="l" x="9.4" y="86.7">C00097</text></g>
<g id="C00001_6" transform="translate(1615.6,1916.3)"><rect class="n" width="71.9" height="64"/><use xlink:href="#h2o"/><text class="l" x="11" y="49.7">C00001</text></g>
</g>

<g id="connectors">
<path class="e" d="M2929.7,171.4L2932,219"/>
<path class="e" d="M3093.3,143.5C3060,190 3020,192 2972.7,224.6"/>
<path class="e" d="M3140.5,143.5V219"/>
<path class="e" d="M2902.7,267.9C2885,288 2865,300 2847.6,314.6"/>
<path class="e" d="M2936.6,267.9L2944.6,324.2"/>
<path class="e" d="M3139.2,267.9L3132.9,365"/>
<path class="e" d="M3165,267.9C3180,285 3195,298 3212.7,315"/>
<path class="e" d="M2955.5,471.5V528.5"/>
<path class="e" d="M3386,480.3C3400,498 3420,510 3439,528.5"/>
<path class="e" d="M3467,443L3466,528.5"/>
<path class="e" d="M2955.7,576.3V636.3"/>
<path class="e" d="M3465.5,576.3V651.4"/>
<path class="e" d="M3505,576.8C3525,595 3555,605 3577,625"/>
<path class="e" d="M3794.6,740.6L3915.8,795"/>
<path class="e" d="M3956.2,737.5L3955.5,789.6"/>
<path class="e" d="M3955.5,837.4V900.5"/>
<path class="e" d="M3995.9,817.9C4080,835 4220,860 4275.8,915"/>
<path class="e" d="M3954,1044.4V1107.6"/>
<path class="e" d="M3757.8,1054.4L3913.6,1117.5"/>
<path class="e" d="M4174.4,1004.3C4158,1080 4070,1100 3993,1124"/>
<path class="e" d="M3913.6,1135.5C3800,1150 3660,1160 3565,1207.4"/>
<path class="e" d="M3954,1155.7L3954.7,1265"/>
<path class="e" d="M3985,1155.7L4042.6,1204"/>
<path class="e" d="M3855,1376.6L3912.4,1424.4"/>
<path class="e" d="M4039.4,1375.8L3979.5,1424.4"/>
<path class="e" d="M3906,1458C3800,1480 3765,1540 3750.3,1608"/>
<path class="e" d="M3922,1472.6C3890,1530 3865,1570 3849.4,1612"/>
<path class="e" d="M3961,1472.6L4002.6,1551"/>
<path class="e" d="M3986.7,1456C4080,1480 4230,1510 4288.5,1564"/>
<path class="e" d="M2956.3,729.3V789.3"/>
<path class="e" d="M3071.7,727.3C3045,750 3025,770 2996.7,789"/>
<path class="e" d="M2917.3,817.3C2790,830 2620,840 2555.8,922"/>
<path class="e" d="M2957.3,837.3V896"/>
<path class="e" d="M2982.3,837.7C3010,865 3035,900 3055,940"/>
<path class="e" d="M2458,1002L2213.3,1111.7"/>
<path class="e" d="M2558.3,1024C2590,1070 2650,1095 2705,1116.8"/>
<path class="e" d="M2744.9,1027.6V1107.7"/>
<path class="e" d="M2132.9,1000.5L2164.4,1107.7"/>
<path class="e" d="M2212.5,996.4L2180.2,1107.7"/>
<path class="e" d="M2154.5,1155.6L2087.3,1264.8"/>
<path class="e" d="M2188.5,1155.6L2244,1245"/>
<path class="e" d="M2132.9,1143.4C2050,1175 2000,1240 1985,1275C1965,1335 1975,1380 1931.7,1440C1890,1510 1830,1545 1752.7,1609.3"/>
<path class="e" d="M1271.6,1013.3L1155.8,1107.7"/>
<path class="e" d="M1367.7,988.8L1777.3,1117.3"/>
<path class="e" d="M1817.3,1000.3V1107.3"/>
<path class="e" d="M1857.7,1147.7C1900,1170 1925,1190 1935,1225C1960,1290 1940,1340 1926.7,1376.7C1900,1450 1830,1530 1752.7,1601.7"/>
<path class="e" d="M1103.2,1155.6L1050.5,1220.4"/>
<path class="e" d="M1164.9,1134.2C1350,1150 1560,1165 1640,1185C1690,1200 1710,1280 1716,1340C1722,1420 1715,1500 1711.7,1588.3"/>
<path class="e" d="M768.4,1584.7C730,1480 697,1400 699.6,1330C702,1250 730,1205 759.3,1188C800,1160 950,1135 1084.2,1133.2"/>
<path class="e" d="M968.4,1450C1150,1465 1500,1490 1590,1505C1640,1515 1660,1540 1688,1588.3"/>
<path class="e" d="M472.3,1451.7C800,1470 1400,1500 1600,1515C1650,1522 1665,1555 1685,1588.3"/>
<path class="e" d="M1480,1456.5C1560,1470 1640,1510 1691.7,1588.3"/>
<path class="e" d="M1622.5,1472.4L1682,1588.3"/>
<path class="e" d="M2129.6,1464.8C2050,1497 1900,1550 1752.7,1618.3"/>
<path class="e" d="M2652.8,1450C2350,1470 2000,1520 1752.7,1618.3"/>
<path class="e" d="M1774.3,1472.7L1731.7,1588.3"/>
<path class="e" d="M1781.7,1317.3L1783.3,1424.3"/>
<path class="e" d="M1854.7,1330L1800.7,1424"/>
<path class="e" d="M1487,1317.3C1505,1365 1535,1390 1578.2,1424.5"/>
<path class="e" d="M1608.4,1340.3V1424.5"/>
<path class="e" d="M1298.2,1337.2C1330,1375 1365,1400 1402.8,1424.5"/>
<path class="e" d="M1398.6,1317.3L1428.8,1424.5"/>
<path class="e" d="M1440,1472.4L1447,1569.4"/>
<path class="e" d="M804.9,1317.3C820,1365 855,1395 890.5,1424.5"/>
<path class="e" d="M964.2,1357.7L938.2,1424.5"/>
<path class="e" d="M908.8,1472.4L833,1584.7"/>
<path class="e" d="M128.6,1331.5C170,1400 270,1425 392.4,1444"/>
<path class="e" d="M229.5,1314.7C250,1385 320,1410 392.4,1437"/>
<path class="e" d="M432.6,1375.6V1424.5"/>
<path class="e" d="M634.4,1317.8C610,1395 540,1415 473.2,1439.5"/>
<path class="e" d="M394.6,1472.8L281.3,1549.3"/>
<path class="e" d="M437,1472.8L445.5,1520.2"/>
<path class="e" d="M1343.3,1675.7C1360,1760 1440,1795 1551.3,1819.3"/>
<path class="e" d="M1591.5,1669.3V1800.3"/>
<path class="e" d="M1679.5,1684.3C1660,1730 1635,1760 1609.4,1800.3"/>
<path class="e" d="M1578.6,1848.3L1556.7,1897"/>
<path class="e" d="M1604.5,1848.3L1634.8,1916"/>
<path class="e" d="M2169.4,1317.3V1424.5"/>
<path class="e" d="M2365,1355C2320,1395 2260,1410 2210,1431.6"/>
<path class="e" d="M2169.4,1472.4V1587.8"/>
<path class="e" d="M2744.9,1155.6V1248.5"/>
<path class="e" d="M2785.5,1151.5L2960.4,1233.2"/>
<path class="e" d="M2647.8,1313.3L2684.3,1424.5"/>
<path class="e" d="M2730,1331.6L2702.6,1424.5"/>
<path class="e" d="M2837.7,1317.3C2825,1370 2780,1405 2734,1428"/>
<path class="e" d="M2685,1472.4L2652.8,1612.3"/>
<path class="e" d="M2700,1472.4L2731.6,1604.6"/>
</g>
</svg>
